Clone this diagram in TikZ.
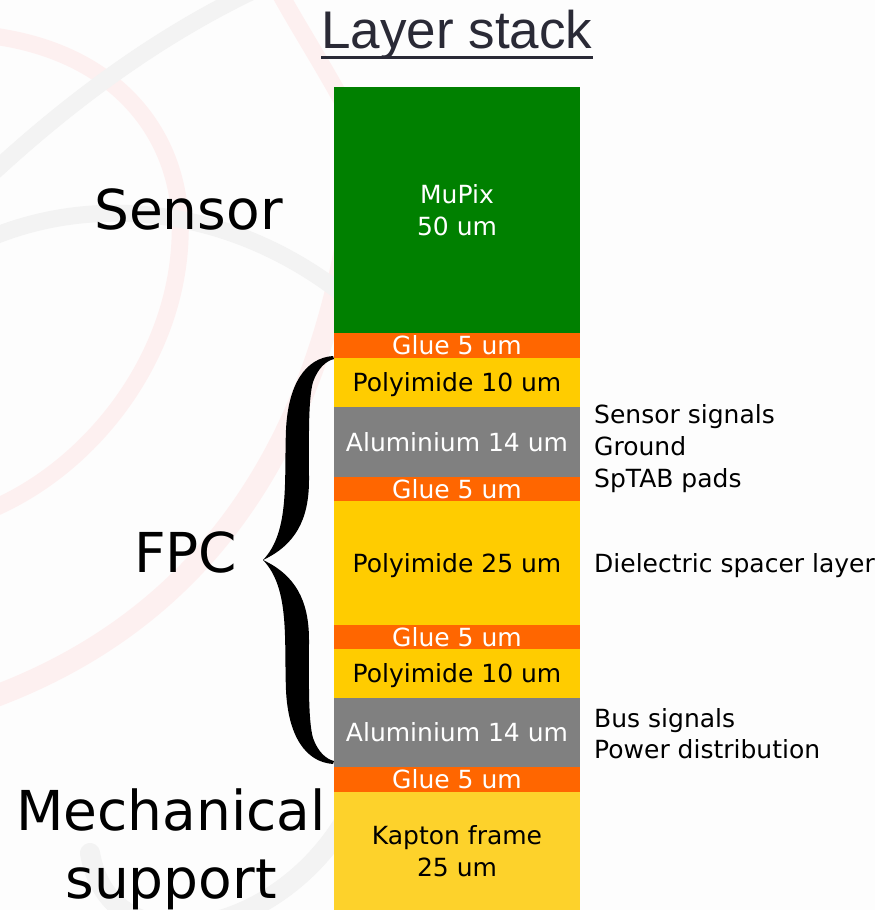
\documentclass[tikz,border=0pt]{standalone}
\usepackage{fontspec}
\setmainfont{DejaVu Sans}
\newfontfamily\titlefont{Liberation Sans}
\definecolor{sensorgreen}{HTML}{008000}
\definecolor{glueorange}{HTML}{FF6600}
\definecolor{polyyellow}{HTML}{FFCC00}
\definecolor{kaptonyellow}{HTML}{FDD22B}
\definecolor{alugrey}{HTML}{808080}
\definecolor{titleink}{HTML}{2A2A36}
\definecolor{wmpink}{HTML}{FDF0F0}
\definecolor{wmgrey}{HTML}{F3F3F3}
\definecolor{bgwhite}{HTML}{FDFDFD}
\newcommand\stacklayer[6]{%
  \pgfmathsetmacro\layerh{#3-#2}%
  \node[layerbox, fill=#4, minimum height=\layerh pt] (#1) at (457,#2) {};%
  \node[smalltxt, text=#5, anchor=base] (#1-t) at ([yshift=-9pt]#1.center) {#6};%
}
\begin{document}
\begin{tikzpicture}[x=1pt,y=-1pt,
  layerbox/.style={rectangle, draw=none, inner sep=0pt, minimum width=246pt, anchor=north},
  smalltxt/.style={inner sep=0pt, font=\fontsize{25}{32}\selectfont},
  bigtxt/.style={inner sep=0pt, font=\fontsize{55}{68}\selectfont, text=black},
  wmark/.style={line width=17pt, line cap=round}]
\useasboundingbox (0,0) rectangle (875,910);
\fill[bgwhite] (0,0) rectangle (875,910);
% faint watermark
\begin{scope}
\clip (0,0) rectangle (875,910);
\draw[wmark, wmpink] (-15,35) .. controls (120,50) and (185,140) .. (180,240) .. controls (175,360) and (90,470) .. (-15,512);
\draw[wmark, wmpink] (278,-10) .. controls (300,30) and (320,60) .. (350,115);
\draw[wmark, wmpink, line width=22pt] (345,250) .. controls (300,480) and (180,630) .. (-15,700);
\draw[wmark, wmgrey] (-15,180) .. controls (60,110) and (150,40) .. (255,-10);
\draw[wmark, wmgrey] (-15,240) .. controls (100,190) and (240,210) .. (350,300);
\draw[wmark, wmgrey, line width=20pt] (90,853) .. controls (110,970) and (280,940) .. (350,812);
\end{scope}
% title
\node[inner sep=0pt, anchor=base, text=titleink, font=\titlefont\fontsize{53}{60}\selectfont] (title) at (457,48) {Layer stack};
\draw[titleink, line width=3pt] ([yshift=-9pt]title.base west) -- ([yshift=-9pt]title.base east);
% layer stack
\stacklayer{mupix}{87}{333}{sensorgreen}{white}{}
\node[smalltxt, text=white, align=center] (mupix-lbl) at (mupix.center) {MuPix\\50 um};
\stacklayer{glueA}{333}{358}{glueorange}{white}{Glue 5 um}
\stacklayer{polyA}{358}{407}{polyyellow}{black}{Polyimide 10 um}
\stacklayer{aluA}{407}{477}{alugrey}{white}{Aluminium 14 um}
\stacklayer{glueB}{477}{501}{glueorange}{white}{Glue 5 um}
\stacklayer{polyB}{501}{625}{polyyellow}{black}{Polyimide 25 um}
\stacklayer{glueC}{625}{649}{glueorange}{white}{Glue 5 um}
\stacklayer{polyC}{649}{698}{polyyellow}{black}{Polyimide 10 um}
\stacklayer{aluB}{698}{767}{alugrey}{white}{Aluminium 14 um}
\stacklayer{glueD}{767}{792}{glueorange}{white}{Glue 5 um}
\stacklayer{kapton}{792}{910}{kaptonyellow}{black}{}
\node[smalltxt, text=black, align=center] (kapton-lbl) at (kapton.center) {Kapton frame\\25 um};
% right-hand notes
\node[smalltxt, anchor=base west] (n1) at (594,423) {Sensor signals};
\node[smalltxt, anchor=base west] (n2) at (594,455) {Ground};
\node[smalltxt, anchor=base west] (n3) at (594,487) {SpTAB pads};
\node[smalltxt, anchor=base west] (n4) at (594,572) {Dielectric spacer layer};
\node[smalltxt, anchor=base west] (n5) at (594,727) {Bus signals};
\node[smalltxt, anchor=base west] (n6) at (594,758) {Power distribution};
% left-hand group labels
\node[bigtxt, anchor=base west] (sensor) at (94,229) {Sensor};
\node[bigtxt, anchor=base west] (fpc) at (134,572) {FPC};
\node[bigtxt, align=center] (mech) at (171,849.6) {Mechanical\\support};
% brace
\fill[black] (333,356) .. controls (305,358) and (288,385) .. (286,430)
  .. controls (284,480) and (290,532) .. (263,560)
  .. controls (290,588) and (284,640) .. (286,690)
  .. controls (288,735) and (305,762) .. (333,764)
  -- (334,761) .. controls (326,759) and (318,752) .. (313,738)
  .. controls (308,720) and (309,680) .. (309,640)
  .. controls (309,600) and (295,575) .. (263,560)
  .. controls (295,545) and (309,520) .. (309,480)
  .. controls (309,440) and (308,400) .. (313,382)
  .. controls (318,368) and (326,361) .. (334,359) -- cycle;
\end{tikzpicture}
\end{document}
